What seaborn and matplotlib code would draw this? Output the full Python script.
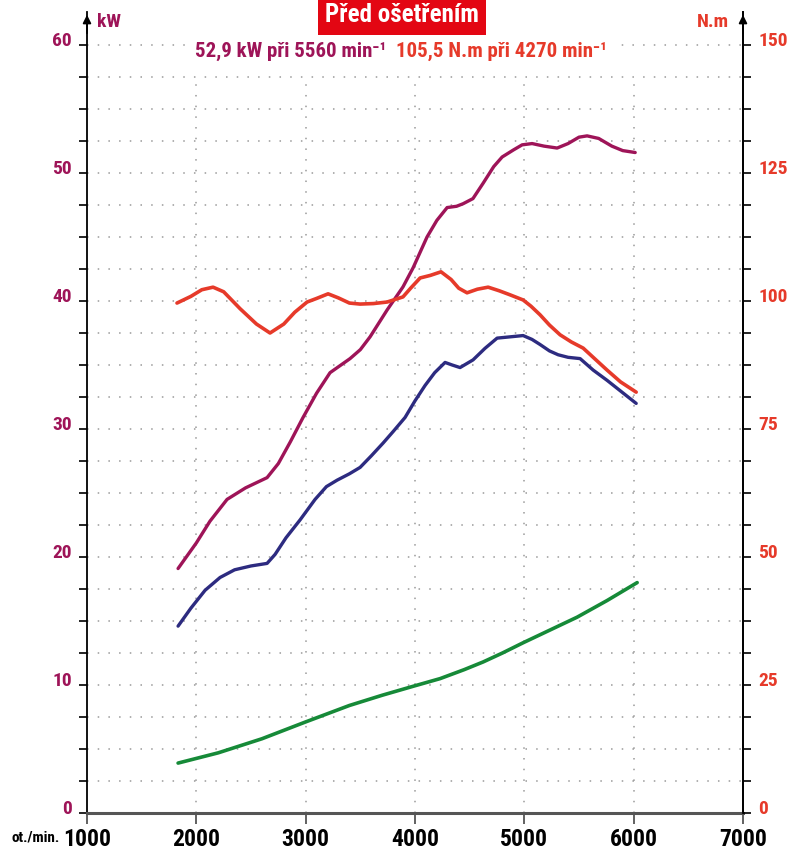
import numpy as np
import pandas as pd
import seaborn as sns
import matplotlib.pyplot as plt
from matplotlib.transforms import ScaledTranslation

# engine power (kW) vs rpm
power_rpm = [1833, 2000, 2125, 2281, 2450, 2647, 2750, 2860, 2976, 3100, 3223, 3406, 3500, 3589,
             3745, 3890, 3983, 4110, 4200, 4294, 4380, 4440, 4530, 4623, 4720, 4797, 4900, 4980,
             5071, 5180, 5300, 5400, 5500, 5574, 5680, 5800, 5900, 6014]
power_kw = [19.1, 21.1, 22.8, 24.5, 25.4, 26.2, 27.3, 29.0, 30.9, 32.8, 34.4, 35.5, 36.2, 37.2,
            39.3, 41.1, 42.6, 45.0, 46.3, 47.3, 47.4, 47.6, 48.0, 49.2, 50.5, 51.25, 51.8, 52.2,
            52.3, 52.1, 51.95, 52.3, 52.8, 52.9, 52.7, 52.1, 51.75, 51.6]

# torque (N.m) vs rpm
torque_rpm = [1823, 1950, 2050, 2153, 2250, 2400, 2550, 2674, 2800, 2900, 3013, 3100, 3205, 3300,
              3400, 3498, 3620, 3745, 3890, 3960, 4047, 4140, 4238, 4330, 4400, 4476, 4570, 4669,
              4770, 4870, 4989, 5060, 5144, 5230, 5327, 5430, 5538, 5650, 5757, 5880, 6023]
torque_nm = [99.6, 100.9, 102.2, 102.7, 101.8, 98.5, 95.5, 93.75, 95.5, 97.8, 99.8, 100.5, 101.4, 100.6,
             99.6, 99.4, 99.5, 99.8, 100.8, 102.5, 104.5, 105.0, 105.7, 104.2, 102.5, 101.6, 102.3, 102.7,
             102.0, 101.2, 100.2, 99.0, 97.3, 95.3, 93.4, 92.0, 90.8, 88.6, 86.5, 84.2, 82.2]

# wheel power (kW)
wheel_rpm = [1833, 1950, 2080, 2217, 2350, 2500, 2647, 2720, 2820, 2949, 3086, 3190, 3287, 3400,
             3498, 3600, 3708, 3800, 3909, 4000, 4092, 4180, 4275, 4340, 4412, 4531, 4640, 4751,
             4870, 4989, 5070, 5144, 5230, 5309, 5400, 5510, 5630, 5757, 5890, 6023]
wheel_kw = [14.6, 16.0, 17.4, 18.4, 19.0, 19.3, 19.5, 20.2, 21.5, 22.9, 24.5, 25.5, 26.0, 26.5,
            27.0, 27.9, 28.9, 29.8, 30.9, 32.2, 33.4, 34.4, 35.2, 35.0, 34.8, 35.4, 36.3, 37.1,
            37.2, 37.3, 37.0, 36.6, 36.1, 35.8, 35.6, 35.5, 34.6, 33.8, 32.9, 32.0]

# losses (kW)
loss_rpm = [1833, 2200, 2600, 2995, 3400, 3700, 3983, 4230, 4450, 4623, 4800, 4989, 5236, 5483, 5757, 6032]
loss_kw = [3.9, 4.7, 5.8, 7.1, 8.4, 9.2, 9.9, 10.5, 11.2, 11.8, 12.5, 13.3, 14.3, 15.3, 16.6, 18.0]

x_ticks = [1000, 2000, 3000, 4000, 5000, 6000, 7000]
kw_ticks = [0, 10, 20, 30, 40, 50, 60]
nm_ticks = [0, 25, 50, 75, 100, 125, 150]

PURPLE = '#9E1458'
RED = '#E63A2A'
NAVY = '#2D2B80'
GREEN = '#168A38'
TITLE_RED = '#E30613'

sns.set_style('white')
plt.rcParams['font.family'] = ['Liberation Sans Narrow', 'Roboto Condensed', 'Roboto', 'DejaVu Sans']
plt.rcParams['font.weight'] = 'bold'

fig = plt.figure(figsize=(8, 8.61), dpi=100)
ax = fig.add_axes([87/800, 48/861, 656/800, 801/861])
ymax = 801/12.8

sns.lineplot(x=power_rpm, y=power_kw, color=PURPLE, lw=2.4, ax=ax)
sns.lineplot(x=wheel_rpm, y=wheel_kw, color=NAVY, lw=2.4, ax=ax)
sns.lineplot(x=loss_rpm, y=loss_kw, color=GREEN, lw=2.6, ax=ax)

ax.set_xlim(1000, 7000)
ax.set_ylim(0, ymax)
ax.set_yticks(kw_ticks)
ax.set_yticks(np.arange(0, 60.1, 2.5), minor=True)
ax.set_xticks(x_ticks)
ax.set_xticklabels([str(v) for v in x_ticks])

grid_kw = dict(color='#9a9a9a', lw=1.1, linestyle=(0, (1, 6)))
ax.yaxis.grid(True, which='both', **grid_kw)
ax.vlines(x_ticks[1:-1], 0, 57.5, zorder=0.5, **grid_kw)
ax.set_axisbelow(True)

ax.spines['top'].set_visible(False)
ax.spines['left'].set_color('black')
ax.spines['left'].set_linewidth(1.3)
ax.spines['right'].set_color('black')
ax.spines['right'].set_linewidth(1.3)
ax.spines['bottom'].set_color('#555555')
ax.spines['bottom'].set_linewidth(2.2)

ax.tick_params(axis='y', which='both', direction='out', length=6, width=1.2, color='black',
               left=True, labelsize=14, labelcolor=PURPLE, pad=5)
ax.tick_params(axis='x', direction='out', length=8, width=1.3, color='#555555',
               bottom=True, labelsize=17, labelcolor='black', pad=3)
ax.set_xlabel('')
ax.set_ylabel('')

ax2 = ax.twinx()
sns.lineplot(x=torque_rpm, y=torque_nm, color=RED, lw=2.6, ax=ax2)
ax2.set_ylim(0, ymax*2.5)
ax2.set_yticks(nm_ticks)
ax2.set_yticks(np.arange(0, 150.1, 6.25), minor=True)
ax2.tick_params(axis='y', which='both', direction='out', length=6, width=1.2, color='black',
                right=True, labelsize=14, labelcolor=RED, pad=5)
ax2.set_ylabel('')
for s in ['top', 'left', 'bottom']:
    ax2.spines[s].set_visible(False)
ax2.spines['right'].set_color('black')
ax2.spines['right'].set_linewidth(1.3)

# labels sit a bit above their ticks
up = ScaledTranslation(0, 6/100, fig.dpi_scale_trans)
for lab in ax.get_yticklabels() + ax2.get_yticklabels():
    lab.set_transform(lab.get_transform() + up)

# arrow heads on the vertical axes
for xf in (0, 1):
    ax.annotate('', xy=(xf, 1.0), xytext=(xf, 0.97), xycoords='axes fraction',
                arrowprops=dict(arrowstyle='-|>', color='black', lw=1.3, mutation_scale=12))

fig.text(402/800, 1 - 15/861, 'Před ošetřením', ha='center', va='center', color='white',
         fontsize=18, fontweight='bold',
         bbox=dict(boxstyle='square,pad=0.3', fc=TITLE_RED, ec='none'))
fig.text(386/800, 1 - 51/861, '52,9 kW při 5560 min⁻¹', ha='right', va='center', color=PURPLE,
         fontsize=15, fontweight='bold', bbox=dict(boxstyle='square,pad=0.3', fc='white', ec='none'))
fig.text(396/800, 1 - 51/861, '105,5 N.m při 4270 min⁻¹', ha='left', va='center', color=RED,
         fontsize=15, fontweight='bold', bbox=dict(boxstyle='square,pad=0.3', fc='white', ec='none'))
fig.text(97/800, 1 - 22/861, 'kW', ha='left', va='center', color=PURPLE, fontsize=14, fontweight='bold')
fig.text(729/800, 1 - 22/861, 'N.m', ha='right', va='center', color=RED, fontsize=14, fontweight='bold')
fig.text(12/800, 23/861, 'ot./min.', ha='left', va='center', color='black', fontsize=11, fontweight='bold')

fig.savefig('out.png', dpi=100)
